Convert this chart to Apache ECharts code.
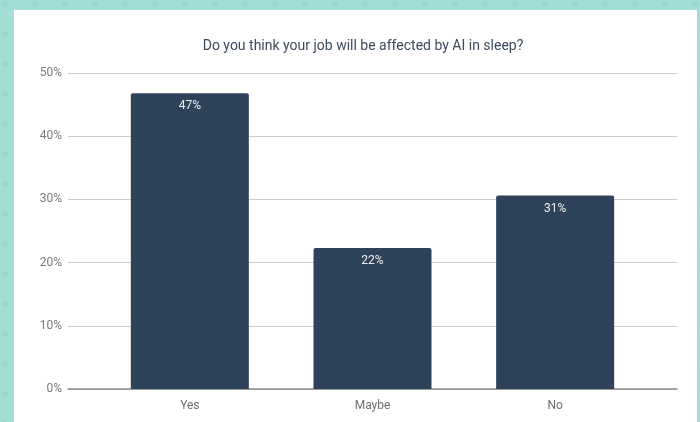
<!DOCTYPE html>
<html>
<head>
<meta charset="utf-8">
<script src="https://cdn.jsdelivr.net/npm/echarts@6/dist/echarts.min.js"></script>
<style>
html,body{margin:0;padding:0;width:700px;height:422px;overflow:hidden;}
body{background-color:#a4dfd7;background-image:radial-gradient(circle at 5px 5px,#9ad9d0 0,#9ad9d0 3px,transparent 3.6px);background-size:30px 30px;background-position:0 -1px;}
#panel{position:absolute;left:14px;top:10px;width:683px;height:412px;background:#fff;}
#chart{position:absolute;left:0;top:0;width:700px;height:422px;}
</style>
</head>
<body>
<div id="panel"></div>
<div id="chart"></div>
<script>
const titleText = 'Do you think your job will be affected by AI in sleep?';
const categories = ['Yes', 'Maybe', 'No'];
const values = [46.8, 22.3, 30.6];
const yTicks = [0, 10, 20, 30, 40, 50];

const chart = echarts.init(document.getElementById('chart'), null, {renderer: 'canvas'});
const font = 'Roboto';
chart.setOption({
  backgroundColor: 'transparent',
  animation: false,
  title: {
    text: titleText,
    left: 358, top: 34, textAlign: 'center',
    textStyle: {fontFamily: font, fontSize: 14, fontWeight: 'normal', color: '#3b4a5c'}
  },
  grid: [
    {left: 68, right: 23, top: 73, bottom: 33},
    {left: 98.5, right: 53.5, top: 73, bottom: 33}
  ],
  xAxis: [
    {gridIndex: 0, type: 'value', min: 0, max: 1, axisLabel: {show: false}, axisTick: {show: false}, splitLine: {show: false},
     axisLine: {show: true, lineStyle: {color: '#8a8a8a', width: 1.5}}},
    {gridIndex: 1, type: 'category', data: categories, axisLine: {show: false}, axisTick: {show: false},
     axisLabel: {fontFamily: font, fontSize: 12, color: '#6f6f6f', margin: 11}}
  ],
  yAxis: [
    {gridIndex: 0, type: 'value', min: yTicks[0], max: yTicks[yTicks.length - 1], interval: 10,
     axisLine: {show: false}, axisTick: {show: false},
     axisLabel: {fontFamily: font, fontSize: 12, color: '#7a7a7a', margin: 6, formatter: '{value}%'},
     splitLine: {lineStyle: {color: '#cccccc', width: 1}}},
    {gridIndex: 1, type: 'value', min: 0, max: 50, show: false, splitLine: {show: false}}
  ],
  series: [{
    type: 'bar',
    xAxisIndex: 1, yAxisIndex: 1,
    data: values,
    barWidth: 118,
    itemStyle: {color: '#2e4359', borderRadius: [2, 2, 0, 0]},
    label: {show: true, position: 'insideTop', distance: 7, color: '#eeeeee', fontFamily: font, fontSize: 12,
      formatter: p => Math.round(p.value) + '%'}
  }]
});
</script>
</body>
</html>
